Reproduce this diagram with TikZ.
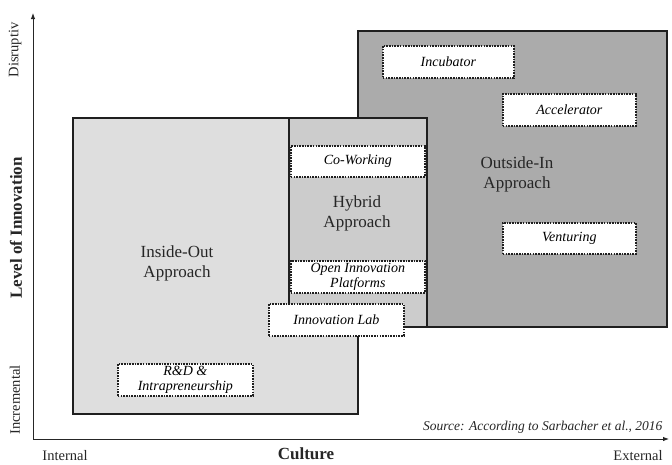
\documentclass[tikz,border=0pt]{standalone}
\usepackage{fontspec}
\setmainfont{Liberation Serif}
\usetikzlibrary{arrows.meta}
\definecolor{outc}{gray}{0.67}
\definecolor{hybc}{gray}{0.80}
\definecolor{insc}{gray}{0.87}
\definecolor{edge}{gray}{0.12}
\tikzset{
  region/.style={draw=edge, line width=1.6pt, inner sep=0pt, anchor=north west},
  dotbox/.style={draw=edge, fill=white, line width=1.7pt, dash pattern=on 1.6pt off 1.1pt,
    inner sep=0pt, anchor=north west, align=center,
    font=\fontsize{14}{14.5}\selectfont\itshape},
  apptext/.style={align=center, font=\fontsize{17}{20}\selectfont, text=black!85},
  axis/.style={draw=black!85, line width=0.9pt},
  axtext/.style={font=\fontsize{14.5}{16}\selectfont, text=black!85},
}
\begin{document}
\begin{tikzpicture}[x=1pt,y=-1pt]
\useasboundingbox (0,0) rectangle (672,464);
% regions
\node[region, fill=outc, minimum width=309pt, minimum height=296pt] (outbox) at (357,30) {};
\node[region, fill=insc, minimum width=285pt, minimum height=296pt] (insbox) at (72,117) {};
\node[region, fill=hybc, minimum width=138pt, minimum height=209pt] (hybbox) at (288,117) {};
% approach labels
\node[apptext] (instext) at (177,263) {Inside-Out\\Approach};
\node[apptext] (hybtext) at (357,213) {Hybrid\\Approach};
\node[apptext] (outtext) at (517,174) {Outside-In\\Approach};
% dotted boxes
\node[dotbox, minimum width=131pt, minimum height=32pt] (incub) at (382,45) {Incubator};
\node[dotbox, minimum width=133pt, minimum height=32pt] (accel) at (502,93) {Accelerator};
\node[dotbox, minimum width=133pt, minimum height=31pt] (vent) at (502,222) {Venturing};
\node[dotbox, minimum width=134pt, minimum height=31pt] (cowork) at (290,145) {Co-Working};
\node[dotbox, minimum width=134pt, minimum height=32pt] (oip) at (290,260) {Open Innovation\\Platforms};
\node[dotbox, minimum width=135pt, minimum height=32pt] (ilab) at (268,303) {Innovation Lab};
\node[dotbox, minimum width=135pt, minimum height=32pt] (rnd) at (117,363) {R\&D \&\\Intrapreneurship};
% axes
\coordinate (O) at (33,439);
\coordinate (ytop) at (33,13);
\coordinate (xend) at (669,439);
\draw[axis, -{Latex[length=6pt,width=4.5pt]}] (O) -- (ytop);
\draw[axis, -{Latex[length=6pt,width=4.5pt]}] (O) -- (xend);
% axis texts
\node[axtext, rotate=90] (disr) at (15,50) {Disruptiv};
\node[axtext, rotate=90] (incr) at (15,400) {Incremental};
\node[axtext, rotate=90] (loi) at (16,228) {\fontsize{17}{19}\selectfont\bfseries Level of Innovation};
\node[axtext] (intl) at (65,456) {Internal};
\node[axtext] (extl) at (638,456) {External};
\node[axtext] (cult) at (306,454) {\fontsize{17}{19}\selectfont\bfseries Culture};
\node[axtext, anchor=east] (src) at (666,427) {\fontsize{13.5}{15}\selectfont\itshape Source: According to Sarbacher et al., 2016};
\end{tikzpicture}
\end{document}
